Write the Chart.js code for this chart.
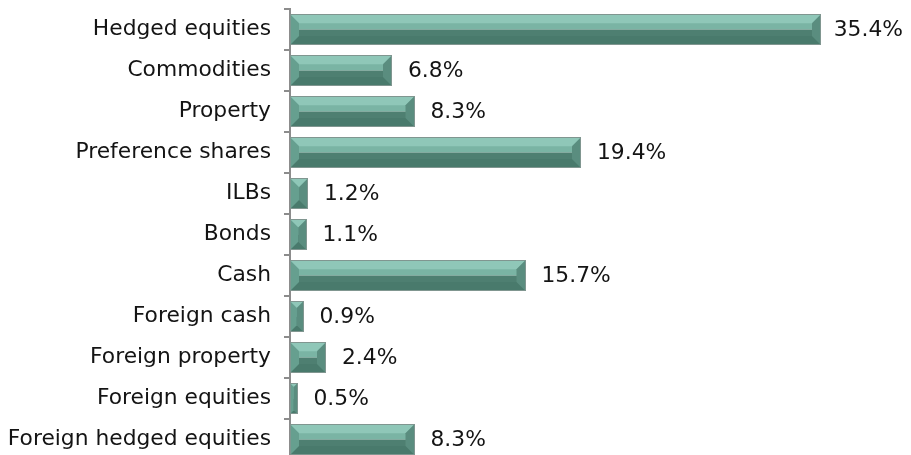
<!DOCTYPE html>
<html>
<head>
<meta charset="utf-8">
<script src="https://cdn.jsdelivr.net/npm/chart.js@4"></script>
<style>
  html, body { margin: 0; padding: 0; background: #fff; overflow: hidden; }
  #wrap { width: 911px; height: 470px; position: relative; }
</style>
</head>
<body>
<div id="wrap"><canvas id="allocation-chart"></canvas></div>
<script>
const categories = [
  'Hedged equities',
  'Commodities',
  'Property',
  'Preference shares',
  'ILBs',
  'Bonds',
  'Cash',
  'Foreign cash',
  'Foreign property',
  'Foreign equities',
  'Foreign hedged equities',
];
const weights = [35.4, 6.8, 8.3, 19.4, 1.2, 1.1, 15.7, 0.9, 2.4, 0.5, 8.3];

const FONT = "'DejaVu Sans', Verdana, sans-serif";
const FONT_SIZE = 21.8;

// draws the bevelled bar look on top of each bar element
const bevelBars = {
  id: 'bevelBars',
  afterDatasetsDraw(chart) {
    const ctx = chart.ctx;
    const meta = chart.getDatasetMeta(0);
    meta.data.forEach((bar) => {
      const p = bar.getProps(['x', 'y', 'base', 'height'], true);
      const x0 = Math.min(p.base, p.x), x1 = Math.max(p.base, p.x);
      const y0 = p.y - p.height / 2, y1 = p.y + p.height / 2;
      const w = x1 - x0, h = y1 - y0;
      const b = Math.min(9, w / 2, h / 2);
      const mid = y0 + h * 0.5;

      ctx.save();
      // face
      ctx.fillStyle = '#7ab4a4';
      ctx.fillRect(x0, y0, w, mid - y0);
      ctx.fillStyle = '#4e7f71';
      ctx.fillRect(x0, mid, w, y1 - mid);

      const poly = (pts, col) => {
        ctx.beginPath();
        ctx.moveTo(pts[0][0], pts[0][1]);
        pts.slice(1).forEach((pt) => ctx.lineTo(pt[0], pt[1]));
        ctx.closePath();
        ctx.fillStyle = col;
        ctx.fill();
      };
      // top bevel
      poly([[x0, y0], [x1, y0], [x1 - b, y0 + b], [x0 + b, y0 + b]], '#8fc7b8');
      // bottom bevel
      poly([[x0, y1], [x1, y1], [x1 - b, y1 - b], [x0 + b, y1 - b]], '#497a6c');
      // left bevel
      poly([[x0, y0], [x0 + b, y0 + b], [x0 + b, y1 - b], [x0, y1]], '#669f8f');
      // right bevel
      poly([[x1, y0], [x1 - b, y0 + b], [x1 - b, y1 - b], [x1, y1]], '#5a8d7f');

      ctx.strokeStyle = '#809690';
      ctx.lineWidth = 1;
      ctx.strokeRect(Math.round(x0) + 0.5, Math.round(y0) + 0.5, Math.round(w) - 1, Math.round(h) - 1);
      ctx.restore();
    });
  },
  afterDraw(chart) {
    const ctx = chart.ctx;
    const meta = chart.getDatasetMeta(0);
    ctx.save();
    ctx.font = FONT_SIZE + 'px ' + FONT;
    ctx.fillStyle = '#141414';
    ctx.textBaseline = 'middle';
    meta.data.forEach((bar, i) => {
      const txt = weights[i].toFixed(1) + '%';
      const tw = ctx.measureText(txt).width;
      let x = bar.x + 16;
      if (x + tw > chart.width - 8) x = chart.width - 8 - tw;
      ctx.fillText(txt, x, bar.y + 1);
    });
    ctx.restore();
  },
};

const ctx = document.getElementById('allocation-chart').getContext('2d');
new Chart(ctx, {
  type: 'bar',
  data: {
    labels: categories,
    datasets: [
      {
        label: 'Allocation',
        data: weights,
        backgroundColor: 'rgba(0,0,0,0)',
        borderWidth: 0,
        barPercentage: 0.75,
        categoryPercentage: 1,
      },
    ],
  },
  options: {
    indexAxis: 'y',
    responsive: true,
    maintainAspectRatio: false,
    animation: false,
    layout: {
      padding: { top: 9, right: 21, bottom: 10, left: 0 },
    },
    plugins: {
      legend: { display: false },
      tooltip: { enabled: false },
    },
    scales: {
      x: {
        display: false,
        min: 0,
        max: 40,
      },
      y: {
        afterFit: (scale) => {
          scale.width = 290;
          scale.paddingTop = 0;
          scale.paddingBottom = 0;
        },
        border: { display: true, color: '#8c8c8c', width: 2 },
        grid: {
          offset: true,
          drawOnChartArea: false,
          drawTicks: true,
          tickLength: 6,
          color: '#8c8c8c',
          lineWidth: 2,
        },
        ticks: {
          color: '#141414',
          padding: 13,
          font: { family: FONT, size: FONT_SIZE },
        },
      },
    },
  },
  plugins: [bevelBars],
});
</script>
</body>
</html>
